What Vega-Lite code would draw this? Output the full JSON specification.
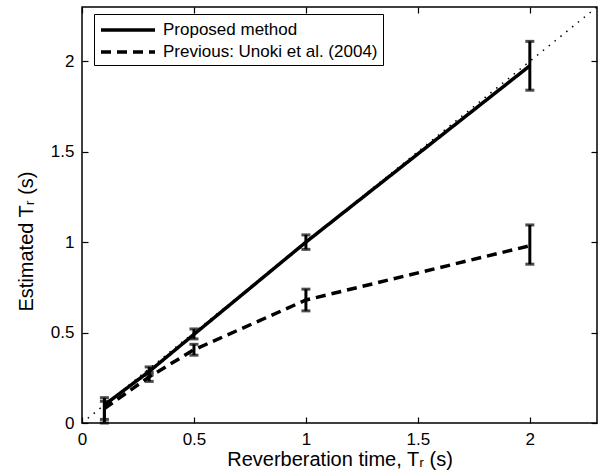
{
  "$schema": "https://vega.github.io/schema/vega-lite/v6.json",
  "width": 515,
  "height": 416,
  "autosize": "none",
  "padding": {"left": 82, "top": 7, "right": 8, "bottom": 50},
  "background": "white",
  "config": {
    "view": {"stroke": "black", "strokeWidth": 1.5},
    "font": "Liberation Sans",
    "axis": {
      "grid": false,
      "domain": false,
      "tickColor": "black",
      "tickSize": -6,
      "tickWidth": 1.2,
      "labelColor": "black",
      "labelFontSize": 17,
      "titleFontSize": 20,
      "titleFontWeight": "normal",
      "titleColor": "black",
      "labelFont": "Liberation Sans",
      "titleFont": "Liberation Sans",
      "format": "~g"
    }
  },
  "datasets": {
    "series": [
      {"series": "Proposed method", "x": 0.1, "y": 0.1, "lo": 0.02, "hi": 0.14},
      {"series": "Proposed method", "x": 0.3, "y": 0.285, "lo": 0.265, "hi": 0.31},
      {"series": "Proposed method", "x": 0.5, "y": 0.49, "lo": 0.465, "hi": 0.52},
      {"series": "Proposed method", "x": 1.0, "y": 1.0, "lo": 0.96, "hi": 1.04},
      {"series": "Proposed method", "x": 2.0, "y": 1.975, "lo": 1.84, "hi": 2.11},
      {"series": "Previous: Unoki et al. (2004)", "x": 0.1, "y": 0.08, "lo": 0.0, "hi": 0.12},
      {"series": "Previous: Unoki et al. (2004)", "x": 0.3, "y": 0.255, "lo": 0.23, "hi": 0.28},
      {"series": "Previous: Unoki et al. (2004)", "x": 0.5, "y": 0.405, "lo": 0.375, "hi": 0.435},
      {"series": "Previous: Unoki et al. (2004)", "x": 1.0, "y": 0.68, "lo": 0.62, "hi": 0.74},
      {"series": "Previous: Unoki et al. (2004)", "x": 2.0, "y": 0.98, "lo": 0.878, "hi": 1.095}
    ],
    "diag": [{"x": 0, "y": 0}, {"x": 2.3, "y": 2.3}]
  },
  "resolve": {"axis": {"x": "independent", "y": "independent"}},
  "layer": [
    {
      "data": {"name": "diag"},
      "mark": {"type": "line", "color": "black", "strokeWidth": 1.5, "strokeDash": [1.5, 6]},
      "encoding": {
        "x": {"field": "x", "type": "quantitative", "scale": {"domain": [0, 2.3], "nice": false},
          "axis": {"orient": "top", "labels": false, "title": null, "values": [0, 0.5, 1, 1.5, 2]}},
        "y": {"field": "y", "type": "quantitative", "scale": {"domain": [0, 2.3], "nice": false},
          "axis": {"orient": "right", "labels": false, "title": null, "values": [0, 0.5, 1, 1.5, 2]}}
      }
    },
    {
      "data": {"name": "series"},
      "mark": {"type": "line", "color": "black", "strokeWidth": 3.5},
      "encoding": {
        "x": {"field": "x", "type": "quantitative", "scale": {"domain": [0, 2.3], "nice": false},
          "axis": {"orient": "bottom", "title": "Reverberation time, Tᵣ (s)", "values": [0, 0.5, 1, 1.5, 2], "labelPadding": 14, "titlePadding": 2, "labelFlush": false}},
        "y": {"field": "y", "type": "quantitative", "scale": {"domain": [0, 2.3], "nice": false},
          "axis": {"orient": "left", "title": "Estimated Tᵣ (s)", "values": [0, 0.5, 1, 1.5, 2], "labelPadding": 14, "titlePadding": 14, "titleY": 234, "labelFlush": false}},
        "strokeDash": {"field": "series", "type": "nominal",
          "scale": {"domain": ["Proposed method", "Previous: Unoki et al. (2004)"], "range": [[1, 0], [10, 6]]},
          "legend": {
            "title": null, "orient": "none", "legendX": 12, "legendY": 7,
            "fillColor": "white", "strokeColor": "black", "padding": 5,
            "symbolType": "M-3,0L3,0", "symbolSize": 324, "symbolOffset": 18, "labelOffset": 24,
            "symbolStrokeWidth": 3.5, "symbolStrokeColor": "black",
            "labelFontSize": 17, "labelColor": "black", "labelFont": "Liberation Sans", "rowPadding": 3, "labelLimit": 400
          }}
      }
    },
    {
      "data": {"name": "series"},
      "mark": {"type": "rule", "color": "black", "strokeWidth": 3},
      "encoding": {
        "x": {"field": "x", "type": "quantitative", "axis": null},
        "y": {"field": "lo", "type": "quantitative", "axis": null},
        "y2": {"field": "hi"}
      }
    },
    {
      "data": {"name": "series"},
      "mark": {"type": "tick", "color": "black", "orient": "horizontal", "size": 9, "thickness": 3},
      "encoding": {
        "x": {"field": "x", "type": "quantitative", "axis": null},
        "y": {"field": "lo", "type": "quantitative", "axis": null}
      }
    },
    {
      "data": {"name": "series"},
      "mark": {"type": "tick", "color": "black", "orient": "horizontal", "size": 9, "thickness": 3},
      "encoding": {
        "x": {"field": "x", "type": "quantitative", "axis": null},
        "y": {"field": "hi", "type": "quantitative", "axis": null}
      }
    }
  ]
}
